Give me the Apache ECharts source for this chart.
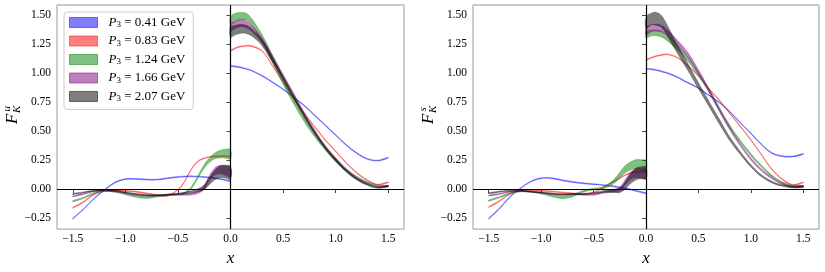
<!DOCTYPE html>
<html><head><meta charset="utf-8">
<script src="https://cdn.jsdelivr.net/npm/echarts@6/dist/echarts.min.js"></script>
<style>html,body{margin:0;padding:0;background:#fff}#c{width:825px;height:272px}</style>
</head><body><div id="c"></div>
<script>
// ---------- data ----------
const P3_LABELS = ['0.41', '0.83', '1.24', '1.66', '2.07'];
const X_NEG = [-1.5,-1.4,-1.3,-1.2,-1.1,-1.0,-0.9,-0.8,-0.7,-0.6,-0.5,-0.45,-0.4,-0.35,-0.3,-0.25,-0.2,-0.15,-0.1,-0.05,0];
const X_POS = [0,0.05,0.1,0.15,0.2,0.3,0.4,0.5,0.6,0.7,0.8,0.9,1.0,1.1,1.2,1.3,1.4,1.5];
const X_TICKS = [-1.5,-1,-0.5,0,0.5,1,1.5];
const Y_TICKS = [-0.25,0,0.25,0.5,0.75,1,1.25,1.5];

// thin bands (blue / red) half-widths
const THIN_NEG_ERR = [0.004,0.004,0.004,0.004,0.004,0.004,0.004,0.004,0.004,0.004,0.004,0.004,0.004,0.004,0.004,0.004,0.004,0.004,0.004,0.004,0.004];
const THIN_POS_ERR = [0.004,0.004,0.004,0.004,0.004,0.004,0.004,0.004,0.004,0.004,0.004,0.004,0.004,0.004,0.004,0.004,0.004,0.004];

// ---- F_K^u panel ----
const U_NEG_041 = [-0.255,-0.175,-0.085,-0.008,0.056,0.085,0.087,0.082,0.081,0.093,0.104,0.107,0.110,0.109,0.107,0.103,0.099,0.093,0.087,0.078,0.068];
const U_NEG_083 = [-0.162,-0.112,-0.047,-0.015,-0.010,-0.015,-0.023,-0.037,-0.052,-0.058,-0.005,0.045,0.127,0.200,0.245,0.265,0.277,0.281,0.283,0.282,0.280];
const U_NEG_124 = [-0.105,-0.077,-0.037,-0.015,-0.023,-0.043,-0.063,-0.071,-0.060,-0.049,-0.043,-0.035,-0.015,0.040,0.120,0.195,0.250,0.285,0.300,0.305,0.300];
const U_NEG_124_ERR = [0.005,0.005,0.005,0.005,0.005,0.006,0.008,0.010,0.008,0.006,0.006,0.006,0.007,0.009,0.012,0.015,0.020,0.025,0.032,0.038,0.040];
const U_NEG_166 = [-0.063,-0.043,-0.020,-0.015,-0.020,-0.034,-0.049,-0.057,-0.057,-0.052,-0.049,-0.049,-0.047,-0.040,-0.025,0.015,0.095,0.150,0.168,0.160,0.145];
const U_NEG_166_ERR = [0.004,0.004,0.004,0.004,0.004,0.004,0.004,0.004,0.004,0.004,0.004,0.005,0.006,0.008,0.010,0.015,0.022,0.030,0.036,0.040,0.040];
const U_NEG_207 = [-0.043,-0.029,-0.015,-0.010,-0.015,-0.029,-0.043,-0.052,-0.054,-0.049,-0.043,-0.038,-0.030,-0.020,-0.008,0.015,0.070,0.120,0.148,0.150,0.140];
const U_NEG_207_ERR = [0.004,0.004,0.004,0.004,0.004,0.004,0.004,0.004,0.004,0.004,0.004,0.006,0.008,0.010,0.014,0.020,0.030,0.040,0.050,0.055,0.055];

const U_POS_041 = [1.060,1.055,1.047,1.035,1.020,0.975,0.920,0.860,0.790,0.720,0.635,0.550,0.465,0.380,0.310,0.260,0.245,0.270];
const U_POS_083 = [1.190,1.215,1.228,1.233,1.230,1.190,1.060,0.920,0.778,0.650,0.537,0.424,0.325,0.226,0.140,0.076,0.038,0.058];
const U_POS_124 = [1.450,1.480,1.490,1.485,1.440,1.300,1.120,0.930,0.760,0.605,0.470,0.355,0.250,0.165,0.100,0.056,0.030,0.022];
const U_POS_124_ERR = [0.035,0.035,0.030,0.030,0.030,0.030,0.030,0.028,0.026,0.024,0.020,0.018,0.015,0.012,0.010,0.008,0.006,0.006];
const U_POS_166 = [1.390,1.415,1.430,1.420,1.385,1.280,1.130,0.970,0.810,0.650,0.500,0.365,0.260,0.165,0.095,0.047,0.018,0.025];
const U_POS_166_ERR = [0.030,0.030,0.030,0.028,0.025,0.020,0.020,0.018,0.016,0.014,0.012,0.010,0.010,0.008,0.007,0.006,0.005,0.005];
const U_POS_207 = [1.350,1.370,1.380,1.375,1.350,1.260,1.110,0.955,0.795,0.635,0.485,0.355,0.250,0.155,0.085,0.038,0.012,0.028];
const U_POS_207_ERR = [0.040,0.040,0.038,0.035,0.030,0.025,0.020,0.018,0.016,0.014,0.012,0.010,0.010,0.008,0.007,0.006,0.005,0.005];

// ---- F_K^s panel ----
const S_NEG_041 = [-0.255,-0.170,-0.070,0.005,0.064,0.093,0.093,0.076,0.061,0.050,0.042,0.038,0.033,0.028,0.022,0.015,0.008,-0.003,-0.015,-0.026,-0.037];
const S_NEG_083 = [-0.156,-0.105,-0.043,-0.015,-0.009,-0.015,-0.020,-0.029,-0.037,-0.043,-0.029,-0.008,0.019,0.045,0.070,0.095,0.120,0.138,0.147,0.150,0.150];
const S_NEG_124 = [-0.100,-0.071,-0.037,-0.020,-0.023,-0.037,-0.057,-0.071,-0.057,-0.020,0.000,0.006,0.014,0.035,0.070,0.120,0.170,0.198,0.212,0.212,0.206];
const S_NEG_124_ERR = [0.005,0.005,0.005,0.005,0.005,0.005,0.008,0.012,0.010,0.007,0.006,0.006,0.008,0.012,0.018,0.024,0.030,0.035,0.040,0.040,0.040];
const S_NEG_166 = [-0.057,-0.043,-0.023,-0.015,-0.020,-0.029,-0.037,-0.043,-0.043,-0.049,-0.049,-0.040,-0.029,-0.022,-0.015,0.000,0.056,0.113,0.133,0.133,0.127];
const S_NEG_166_ERR = [0.004,0.004,0.004,0.004,0.004,0.004,0.004,0.004,0.004,0.004,0.004,0.005,0.006,0.008,0.010,0.015,0.022,0.030,0.036,0.040,0.040];
const S_NEG_207 = [-0.037,-0.023,-0.015,-0.015,-0.023,-0.031,-0.043,-0.049,-0.043,-0.043,-0.037,-0.030,-0.020,-0.018,-0.015,-0.010,0.028,0.085,0.127,0.140,0.140];
const S_NEG_207_ERR = [0.004,0.004,0.004,0.004,0.004,0.004,0.004,0.004,0.004,0.004,0.004,0.006,0.008,0.010,0.014,0.020,0.030,0.040,0.050,0.050,0.050];

const S_POS_041 = [1.035,1.032,1.025,1.013,1.000,0.963,0.915,0.870,0.807,0.745,0.665,0.570,0.480,0.385,0.310,0.283,0.280,0.302];
const S_POS_083 = [1.112,1.130,1.146,1.155,1.160,1.132,1.060,0.975,0.864,0.764,0.650,0.538,0.424,0.297,0.170,0.084,0.036,0.056];
const S_POS_124 = [1.325,1.345,1.345,1.333,1.300,1.217,1.118,0.990,0.850,0.690,0.538,0.410,0.297,0.198,0.113,0.056,0.028,0.022];
const S_POS_124_ERR = [0.025,0.025,0.025,0.025,0.022,0.020,0.018,0.016,0.015,0.013,0.012,0.010,0.010,0.008,0.007,0.006,0.006,0.006];
const S_POS_166 = [1.360,1.385,1.390,1.380,1.350,1.260,1.155,1.010,0.850,0.680,0.520,0.380,0.260,0.165,0.095,0.045,0.018,0.020];
const S_POS_166_ERR = [0.030,0.030,0.030,0.028,0.025,0.022,0.020,0.018,0.016,0.014,0.012,0.010,0.009,0.008,0.007,0.006,0.006,0.006];
const S_POS_207 = [1.430,1.465,1.465,1.440,1.370,1.205,1.050,0.890,0.735,0.580,0.430,0.310,0.200,0.115,0.060,0.030,0.018,0.025];
const S_POS_207_ERR = [0.050,0.050,0.055,0.050,0.045,0.035,0.030,0.025,0.022,0.020,0.015,0.012,0.010,0.008,0.007,0.006,0.006,0.006];

// ---------- chart ----------
const COLORS = ['rgba(0,0,255,0.5)','rgba(255,0,0,0.5)','rgba(0,128,0,0.5)','rgba(128,0,128,0.5)','rgba(0,0,0,0.5)'];
const NAMES = P3_LABELS.map(p => 'P₃ = ' + p + ' GeV');
const FONT = 'Liberation Serif';

const PANELS = [
  { neg: [[U_NEG_041, THIN_NEG_ERR],[U_NEG_083, THIN_NEG_ERR],[U_NEG_124, U_NEG_124_ERR],[U_NEG_166, U_NEG_166_ERR],[U_NEG_207, U_NEG_207_ERR]],
    pos: [[U_POS_041, THIN_POS_ERR],[U_POS_083, THIN_POS_ERR],[U_POS_124, U_POS_124_ERR],[U_POS_166, U_POS_166_ERR],[U_POS_207, U_POS_207_ERR]] },
  { neg: [[S_NEG_041, THIN_NEG_ERR],[S_NEG_083, THIN_NEG_ERR],[S_NEG_124, S_NEG_124_ERR],[S_NEG_166, S_NEG_166_ERR],[S_NEG_207, S_NEG_207_ERR]],
    pos: [[S_POS_041, THIN_POS_ERR],[S_POS_083, THIN_POS_ERR],[S_POS_124, S_POS_124_ERR],[S_POS_166, S_POS_166_ERR],[S_POS_207, S_POS_207_ERR]] }
];

function band(name, color, xs, c, e, gi) {
  return {
    type: 'custom', name: name, coordinateSystem: 'cartesian2d',
    xAxisIndex: gi, yAxisIndex: gi,
    dimensions: ['x', 'lo', 'hi'],
    encode: { x: 0, y: [1, 2] },
    data: xs.map((x, i) => [x, c[i] - e[i], c[i] + e[i]]),
    itemStyle: { color: color },
    silent: true,
    renderItem: function (params, api) {
      if (params.dataIndexInside !== 0) return null;
      const n = params.dataInsideLength;
      const up = [], lo = [];
      for (let i = 0; i < n; i++) {
        up.push(api.coord([api.value(0, i), api.value(2, i)]));
        lo.push(api.coord([api.value(0, i), api.value(1, i)]));
      }
      return {
        type: 'polygon',
        shape: { points: up.concat(lo.reverse()), smooth: 0.35 },
        style: { fill: color, stroke: color, lineWidth: 0.6 }
      };
    }
  };
}

const fmtY = v => (v < 0 ? '−' : '') + Math.abs(v).toFixed(2);
const fmtX = v => (v < 0 ? '−' : '') + Math.abs(v).toFixed(1);

function xAx(gi) {
  return {
    type: 'value', gridIndex: gi, min: -1.65, max: 1.65,
    name: 'x', nameLocation: 'middle', nameGap: 15,
    nameTextStyle: { fontFamily: FONT, fontStyle: 'italic', fontSize: 17, color: '#000' },
    axisLine: { show: false },
    splitLine: { show: false },
    axisTick: { show: true, customValues: X_TICKS, length: 4, lineStyle: { color: '#444', width: 1 } },
    axisLabel: { customValues: X_TICKS, formatter: fmtX, fontFamily: FONT, fontSize: 11.5, color: '#000', margin: 4 }
  };
}
function yAx(gi) {
  return {
    type: 'value', gridIndex: gi, min: -0.345, max: 1.585,
    axisLine: { show: false },
    splitLine: { show: false },
    axisTick: { show: true, customValues: Y_TICKS, length: 4, lineStyle: { color: '#444', width: 1 } },
    axisLabel: { customValues: Y_TICKS, formatter: fmtY, fontFamily: FONT, fontSize: 11.5, color: '#000', margin: 6 }
  };
}

const series = [];
PANELS.forEach((p, gi) => {
  for (let k = 0; k < 5; k++) {
    series.push(band(NAMES[k], COLORS[k], X_NEG, p.neg[k][0], p.neg[k][1], gi));
    series.push(band(NAMES[k], COLORS[k], X_POS, p.pos[k][0], p.pos[k][1], gi));
  }
  series.push({
    type: 'line', name: 'zero' + gi, xAxisIndex: gi, yAxisIndex: gi, data: [], z: 10, silent: true,
    markLine: {
      symbol: ['none', 'none'], silent: true, animation: false,
      label: { show: false },
      lineStyle: { color: '#000', width: 1.2, type: 'solid' },
      emphasis: { disabled: true },
      data: [{ yAxis: 0 }, { xAxis: 0 }]
    }
  });
});

function yName(x, sup) {
  return {
    type: 'group', x: x, y: 114, rotation: Math.PI / 2, silent: true,
    children: [
      { type: 'text', x: -10, y: 0, style: { text: 'F', font: 'italic 17px "Liberation Serif"', fill: '#000', align: 'left', verticalAlign: 'middle' } },
      { type: 'text', x: 1, y: 4, style: { text: 'K', font: 'italic 11px "Liberation Serif"', fill: '#000', align: 'left', verticalAlign: 'middle' } },
      { type: 'text', x: 2.5, y: -6, style: { text: sup, font: 'italic 11px "Liberation Serif"', fill: '#000', align: 'left', verticalAlign: 'middle' } }
    ]
  };
}

const chart = echarts.init(document.getElementById('c'), null, { renderer: 'canvas' });
chart.setOption({
  animation: false,
  textStyle: { fontFamily: FONT },
  grid: [
    { left: 57, top: 5, width: 347, height: 227, show: true, borderColor: '#999', borderWidth: 1, backgroundColor: 'transparent' },
    { left: 473, top: 5, width: 346, height: 227, show: true, borderColor: '#999', borderWidth: 1, backgroundColor: 'transparent' }
  ],
  xAxis: [xAx(0), xAx(1)],
  yAxis: [yAx(0), yAx(1)],
  legend: {
    orient: 'vertical', left: 64, top: 12,
    selectedMode: false,
    data: NAMES.map((n, i) => ({ name: n, icon: 'rect', itemStyle: { color: COLORS[i], borderColor: COLORS[i], borderWidth: 1 } })),
    itemWidth: 28, itemHeight: 10, itemGap: 5,
    padding: [4, 8, 6, 5],
    borderColor: '#ccc', borderWidth: 1, borderRadius: 3,
    backgroundColor: 'rgba(255,255,255,0.8)',
    formatter: function (name) {
      const v = name.replace('P₃ = ', '');
      return '{p|P}{s|3}{t| = ' + v + '}';
    },
    textStyle: {
      color: '#000',
      rich: {
        p: { fontFamily: FONT, fontStyle: 'italic', fontSize: 13, lineHeight: 14, padding: [0, 0, 0, 6] },
        s: { fontFamily: FONT, fontSize: 9, lineHeight: 8, verticalAlign: 'bottom' },
        t: { fontFamily: FONT, fontSize: 13, lineHeight: 14 }
      }
    }
  },
  graphic: [yName(13, 'u'), yName(429, 's')],
  series: series
});
</script>
</body></html>
